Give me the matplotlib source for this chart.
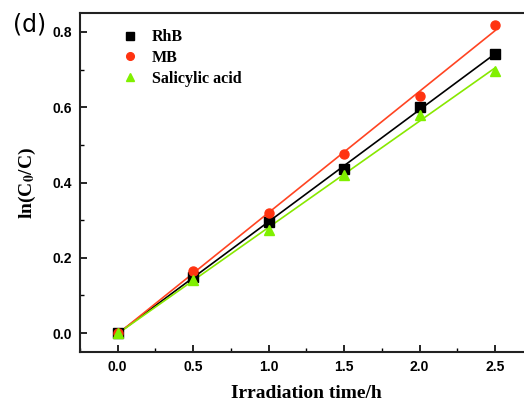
import numpy as np
import matplotlib.pyplot as plt
from matplotlib.ticker import MultipleLocator

plt.rcParams['mathtext.fontset'] = 'stix'

# irradiation time (h) and ln(C0/C) for each pollutant
time_h = [0.0, 0.5, 1.0, 1.5, 2.0, 2.5]
rhb = [0.0, 0.150, 0.295, 0.435, 0.600, 0.742]
mb = [0.0, 0.164, 0.319, 0.475, 0.629, 0.817]
salicylic = [0.0, 0.140, 0.275, 0.419, 0.580, 0.695]

series = [
    ('RhB', rhb, 's', 'black', 'black'),
    ('MB', mb, 'o', '#ff3311', '#ff4422'),
    ('Salicylic acid', salicylic, '^', '#80f000', '#88e800'),
]

fig = plt.figure(figsize=(5.24, 4.03), dpi=100)
ax = fig.add_axes([0.1527, 0.1266, 0.864, 0.841])

t = np.array(time_h)
for name, vals, mk, mcol, lcol in series:
    # linear fit through the points
    k, b = np.polyfit(t, vals, 1)
    ax.plot(t, k * t + b, color=lcol, linewidth=1.2, zorder=2)
    ax.plot(t, vals, linestyle='none', marker=mk, markersize=6.5,
            color=mcol, label=name, zorder=3)

ax.set_xlim(-0.25, 2.75)
ax.set_ylim(-0.05, 0.85)
ax.xaxis.set_major_locator(MultipleLocator(0.5))
ax.xaxis.set_minor_locator(MultipleLocator(0.25))
ax.yaxis.set_major_locator(MultipleLocator(0.2))
ax.yaxis.set_minor_locator(MultipleLocator(0.1))
ax.xaxis.set_major_formatter(plt.FormatStrFormatter('%.1f'))
ax.yaxis.set_major_formatter(plt.FormatStrFormatter('%.1f'))

ax.tick_params(which='major', direction='in', length=5, width=1.2,
               labelsize=10, pad=6)
ax.tick_params(which='minor', direction='in', length=3, width=1.0)
ax.tick_params(axis='x', which='both', top=False)
ax.tick_params(axis='y', which='both', right=False)
for lab in ax.get_xticklabels() + ax.get_yticklabels():
    lab.set_fontfamily('Liberation Sans')
    lab.set_fontweight('bold')
for sp in ax.spines.values():
    sp.set_linewidth(1.5)
    sp.set_color('#222222')
ax.spines['right'].set_visible(False)

ax.set_xlabel('Irradiation time/h', fontfamily='Liberation Serif',
              fontweight='bold', fontsize=14, labelpad=8)
ax.set_ylabel(r'ln(C$_\mathbf{0}$/C)', fontfamily='Liberation Serif',
              fontweight='bold', fontsize=14, labelpad=10)

ax.legend(loc='upper left', bbox_to_anchor=(0.06, 0.995), frameon=False,
          prop={'family': 'Liberation Serif', 'weight': 'bold', 'size': 11.5},
          handlelength=1.0, handletextpad=0.9, labelspacing=0.3,
          markerscale=0.85)

fig.text(0.024, 0.938, '(d)', fontsize=17, fontfamily='DejaVu Sans',
         va='center')

plt.savefig('out.png', dpi=100)
